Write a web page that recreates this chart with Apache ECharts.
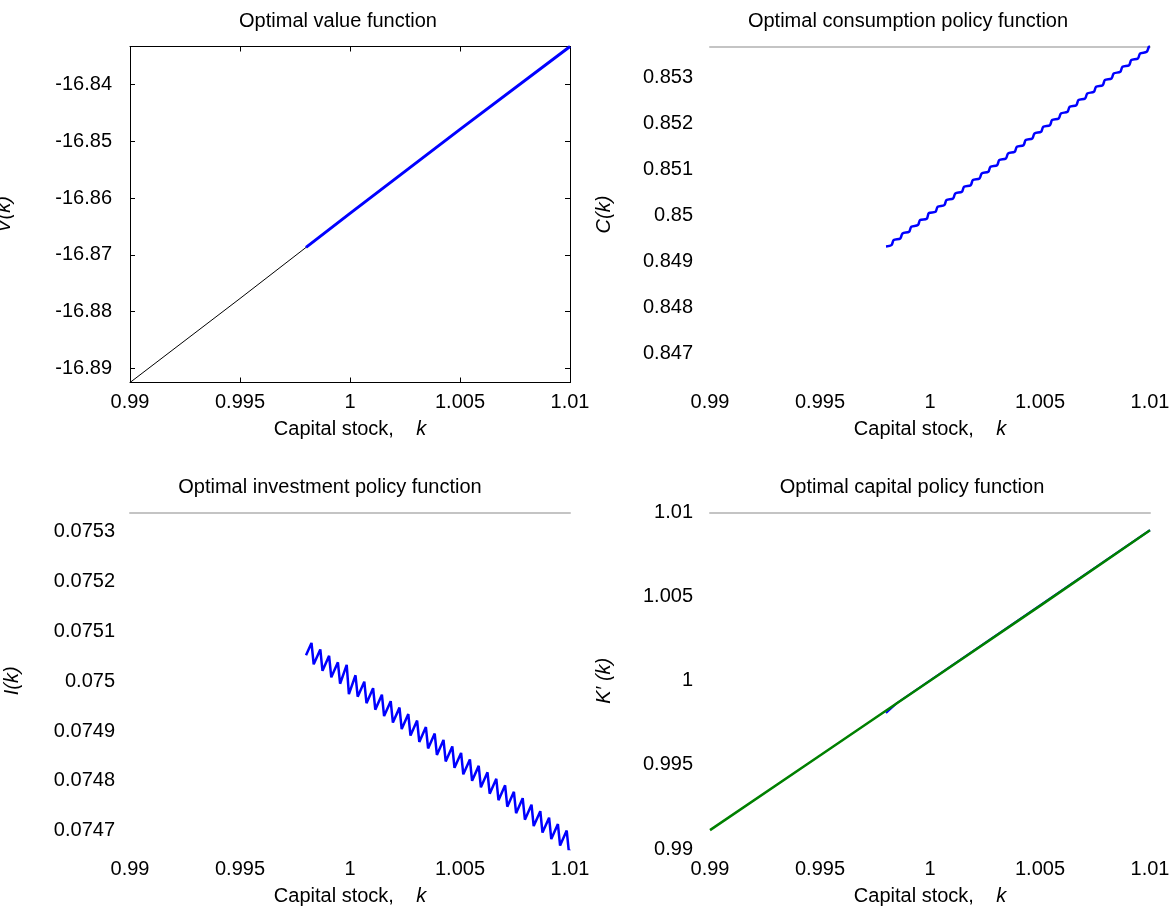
<!DOCTYPE html>
<html>
<head>
<meta charset="utf-8">
<script src="https://cdn.jsdelivr.net/npm/echarts@6/dist/echarts.min.js"></script>
<style>html,body{margin:0;padding:0;background:#fff}#c{width:1169px;height:912px}</style>
</head>
<body>
<div id="c"></div>
<script>
// ---- tick labels ----
const kTicks = [0.99, 0.995, 1, 1.005, 1.01];
const vTicks = [-16.89, -16.88, -16.87, -16.86, -16.85, -16.84];
const cTicks = [0.847, 0.848, 0.849, 0.85, 0.851, 0.852, 0.853];
const iTicks = [0.0747, 0.0748, 0.0749, 0.075, 0.0751, 0.0752, 0.0753];
const kpTicks = [0.99, 0.995, 1, 1.005, 1.01];

// ---- titles ----
const titles = ['Optimal value function', 'Optimal consumption policy function',
  'Optimal investment policy function', 'Optimal capital policy function'];

// ---- value function ----
const valueGridK = [0.99, 0.995, 1.0, 1.005, 1.01];
const valueGridV = [-16.8925, -16.8777, -16.8627, -16.8479, -16.8333];
const valueOptK = [0.998, 1.0, 1.005, 1.01];
const valueOptV = [-16.8687, -16.8627, -16.8479, -16.8333];

// ---- consumption / investment (same k points) ----
const policyK = [0.998,
  0.99825, 0.99835, 0.99865, 0.99875, 0.99905, 0.99915, 0.99945, 0.99955, 0.99985, 0.99995,
  1.00025, 1.00035, 1.00065, 1.00075, 1.00105, 1.00115, 1.00145, 1.00155, 1.00185, 1.00195,
  1.00225, 1.00235, 1.00265, 1.00275, 1.00305, 1.00315, 1.00345, 1.00355, 1.00385, 1.00395,
  1.00425, 1.00435, 1.00465, 1.00475, 1.00505, 1.00515, 1.00545, 1.00555, 1.00585, 1.00595,
  1.00625, 1.00635, 1.00665, 1.00675, 1.00705, 1.00715, 1.00745, 1.00755, 1.00785, 1.00795,
  1.00825, 1.00835, 1.00865, 1.00875, 1.00905, 1.00915, 1.00945, 1.00955, 1.00985, 1.00995,
  1.01];
const consC = [0.84933,
  0.849359, 0.849469, 0.849504, 0.849614, 0.849649, 0.849759, 0.849794, 0.849904, 0.849931, 0.850057,
  0.850084, 0.850194, 0.850229, 0.850339, 0.850374, 0.850484, 0.850519, 0.850629, 0.850664, 0.850774,
  0.850809, 0.850919, 0.850954, 0.851064, 0.851099, 0.851209, 0.851244, 0.851354, 0.851389, 0.851499,
  0.851534, 0.851644, 0.851679, 0.851789, 0.851824, 0.851934, 0.851969, 0.852079, 0.852114, 0.852224,
  0.852259, 0.852369, 0.852404, 0.852514, 0.852549, 0.852659, 0.852694, 0.852804, 0.852839, 0.852949,
  0.852984, 0.853094, 0.853129, 0.853239, 0.853274, 0.853384, 0.853419, 0.853529, 0.853564, 0.853674,
  0.853680];
const investI = [0.075052,
  0.075077, 0.075034, 0.075064, 0.075021, 0.075051, 0.075008, 0.075038, 0.074995, 0.075033, 0.074974,
  0.075012, 0.074969, 0.074999, 0.074956, 0.074986, 0.074943, 0.074973, 0.074930, 0.074960, 0.074917,
  0.074947, 0.074904, 0.074934, 0.074891, 0.074921, 0.074878, 0.074908, 0.074865, 0.074895, 0.074852,
  0.074882, 0.074839, 0.074869, 0.074826, 0.074856, 0.074813, 0.074843, 0.074800, 0.074830, 0.074787,
  0.074817, 0.074774, 0.074804, 0.074761, 0.074791, 0.074748, 0.074778, 0.074735, 0.074765, 0.074722,
  0.074752, 0.074709, 0.074739, 0.074696, 0.074726, 0.074683, 0.074713, 0.074670, 0.074700, 0.074657,
  0.074662];

// ---- capital policy ----
const capGridK = [0.99, 0.995, 1.0, 1.005, 1.01];
const capGridKp = [0.99112, 0.99556, 1.0, 1.00445, 1.00895];
const capOptK = [0.998, 0.9985, 1.01];
const capOptKp = [0.99808, 0.99868, 1.00895];

const FONT = '"Liberation Sans", Arial, Helvetica, sans-serif';
const zip = (a, b) => a.map((v, i) => [v, b[i]]);
const fmt = v => String(parseFloat(Number(v).toPrecision(6)));

const grids = [
  {left: 130, top: 46.5, width: 440, height: 336, containLabel: false, outerBoundsMode: 'none'},
  {left: 710, top: 46.5, width: 440, height: 336, containLabel: false, outerBoundsMode: 'none'},
  {left: 130, top: 512.5, width: 440, height: 336.5, containLabel: false, outerBoundsMode: 'none'},
  {left: 710, top: 512.5, width: 440, height: 336.5, containLabel: false, outerBoundsMode: 'none'}
];
const titlePos = [[338, 11], [908, 11], [330, 477], [912, 477]];

function bottomX(gi, boxed) {
  return {
    type: 'value', gridIndex: gi, min: 0.99, max: 1.01, position: 'bottom',
    name: 'Capital stock,    {i|k}', nameLocation: 'middle', nameGap: 37,
    nameTextStyle: {fontFamily: FONT, fontSize: 20, color: '#000',
      rich: {i: {fontFamily: FONT, fontSize: 20, fontStyle: 'italic', color: '#000'}}},
    axisLine: {show: boxed, onZero: false, lineStyle: {color: '#000', width: 1}},
    axisTick: {show: boxed, inside: true, length: 5, customValues: kTicks, lineStyle: {color: '#000'}},
    axisLabel: {customValues: kTicks, margin: 10, fontFamily: FONT, fontSize: 20, color: '#000', formatter: fmt},
    splitLine: {show: false}
  };
}
function topX(gi, boxed) {
  return {
    type: 'value', gridIndex: gi, min: 0.99, max: 1.01, position: 'top',
    axisLine: {show: true, onZero: false, lineStyle: boxed ? {color: '#000', width: 1} : {color: '#c4c4c4', width: 2}},
    axisTick: {show: boxed, inside: true, length: 5, customValues: kTicks, lineStyle: {color: '#000'}},
    axisLabel: {show: false}, splitLine: {show: false}
  };
}
function leftY(gi, min, max, ticks, name, gap, margin, boxed) {
  return {
    type: 'value', gridIndex: gi, min: min, max: max, position: 'left',
    name: name, nameLocation: 'middle', nameGap: gap,
    nameTextStyle: {fontFamily: FONT, fontSize: 20, fontStyle: 'italic', color: '#000',
      rich: {i: {fontFamily: FONT, fontSize: 20, fontStyle: 'italic', color: '#000'}}},
    axisLine: {show: boxed, onZero: false, lineStyle: {color: '#000', width: 1}},
    axisTick: {show: boxed, inside: true, length: 5, customValues: ticks, lineStyle: {color: '#000'}},
    axisLabel: {customValues: ticks, margin: margin, fontFamily: FONT, fontSize: 20, color: '#000', formatter: fmt},
    splitLine: {show: false}
  };
}

const option = {
  animation: false,
  backgroundColor: '#fff',
  title: titles.map((t, i) => ({
    text: t, left: titlePos[i][0], top: titlePos[i][1], textAlign: 'center', padding: 0,
    textStyle: {fontFamily: FONT, fontSize: 20, fontWeight: 'normal', color: '#000'}
  })),
  grid: grids,
  xAxis: [bottomX(0, true), topX(0, true), bottomX(1, false), topX(1, false),
          bottomX(2, false), topX(2, false), bottomX(3, false), topX(3, false)],
  yAxis: [
    leftY(0, -16.8925, -16.8333, vTicks, 'V({i|k})', 116, 18, true),
    {type: 'value', gridIndex: 0, min: -16.8925, max: -16.8333, position: 'right',
     axisLine: {show: true, onZero: false, lineStyle: {color: '#000', width: 1}},
     axisTick: {show: true, inside: true, length: 5, customValues: vTicks, lineStyle: {color: '#000'}},
     axisLabel: {show: false}, splitLine: {show: false}},
    leftY(1, 0.84637, 0.85368, cTicks, 'C({i|k})', 96, 17, false),
    leftY(2, 0.074663, 0.075339, iTicks, 'I({i|k})', 108, 15, false),
    leftY(3, 0.99, 1.01, kpTicks, 'K′ ({i|k})', 96, 17, false)
  ],
  series: [
    {type: 'line', xAxisIndex: 0, yAxisIndex: 0, data: zip(valueGridK, valueGridV), showSymbol: false,
     lineStyle: {color: '#000', width: 1}},
    {type: 'line', xAxisIndex: 0, yAxisIndex: 0, data: zip(valueOptK, valueOptV), showSymbol: false,
     lineStyle: {color: '#0000ff', width: 3}},
    {type: 'line', xAxisIndex: 2, yAxisIndex: 2, data: zip(policyK, consC), showSymbol: false, smooth: 0.3,
     lineStyle: {color: '#0000ff', width: 2.5}},
    {type: 'line', xAxisIndex: 4, yAxisIndex: 3, data: zip(policyK, investI), showSymbol: false,
     lineStyle: {color: '#0000ff', width: 2.5}},
    {type: 'line', xAxisIndex: 6, yAxisIndex: 4, data: zip(capOptK, capOptKp), showSymbol: false,
     lineStyle: {color: '#0000ff', width: 2}},
    {type: 'line', xAxisIndex: 6, yAxisIndex: 4, data: zip(capGridK, capGridKp), showSymbol: false,
     lineStyle: {color: '#008000', width: 2.5}}
  ]
};
const chart = echarts.init(document.getElementById('c'), null, {renderer: 'canvas'});
chart.setOption(option);
</script>
</body>
</html>
